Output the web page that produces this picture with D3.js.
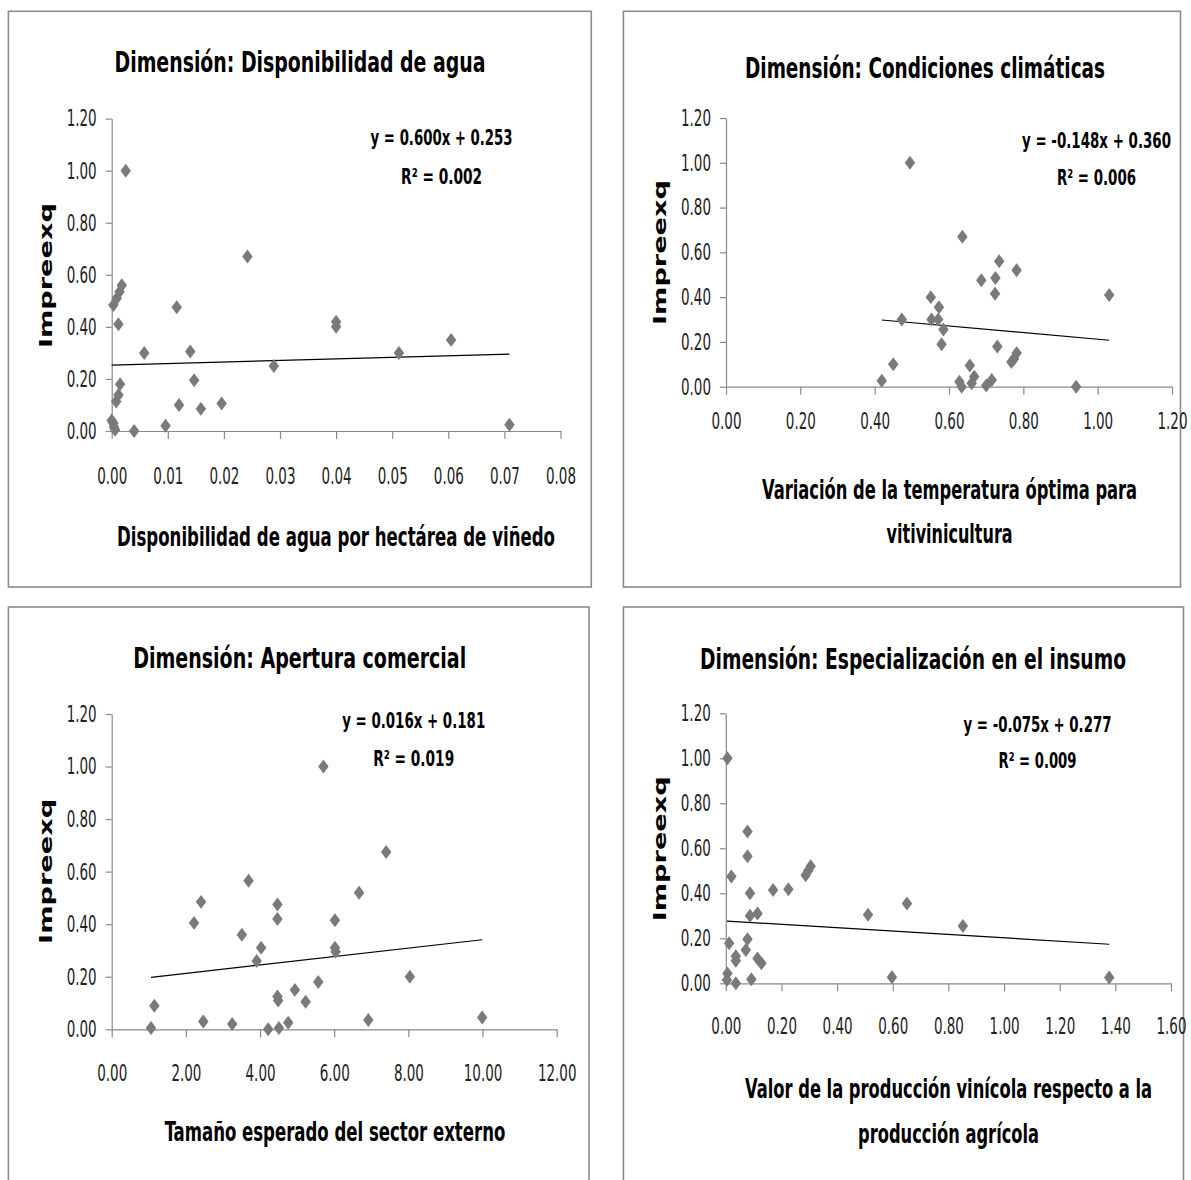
<!DOCTYPE html>
<html>
<head>
<meta charset="utf-8">
<script src="https://cdn.jsdelivr.net/npm/d3@7"></script>
<style>
  body { margin: 0; background: #fff; }
  svg { display: block; }
</style>
</head>
<body>
<div id="chart"></div>
<script>
// ---- data ----
var yTicks = [0, 0.2, 0.4, 0.6, 0.8, 1.0, 1.2];

// Disponibilidad de agua
var aguaTicks = [0, 0.01, 0.02, 0.03, 0.04, 0.05, 0.06, 0.07, 0.08];
var aguaFit = [0.600, 0.253];
var aguaR2 = 0.002;
var aguaPoints = [
  [0.0025, 1.00], [0.0242, 0.67], [0.0018, 0.56], [0.0014, 0.535], [0.0009, 0.51],
  [0.0003, 0.484], [0.0116, 0.475], [0.0012, 0.41], [0.0400, 0.42], [0.0400, 0.40],
  [0.0605, 0.35], [0.0512, 0.30], [0.0058, 0.30], [0.0140, 0.305], [0.0289, 0.25],
  [0.0147, 0.195], [0.0015, 0.18], [0.0012, 0.138], [0.0008, 0.113], [0.0120, 0.10],
  [0.0196, 0.106], [0.0159, 0.085], [0.0096, 0.02], [0.0040, 0.00], [0.0000, 0.04],
  [0.0003, 0.03], [0.0006, 0.005], [0.0004, 0.015], [0.0709, 0.024]
];

// Condiciones climaticas
var climaTicks = [0, 0.2, 0.4, 0.6, 0.8, 1.0, 1.2];
var climaFit = [-0.148, 0.360];
var climaR2 = 0.006;
var climaPoints = [
  [0.495, 1.00], [0.636, 0.67], [0.735, 0.56], [0.782, 0.52], [0.687, 0.475],
  [0.725, 0.485], [0.724, 0.415], [1.031, 0.41], [0.551, 0.40], [0.573, 0.355],
  [0.473, 0.30], [0.553, 0.30], [0.571, 0.30], [0.585, 0.255], [0.580, 0.19],
  [0.730, 0.18], [0.450, 0.10], [0.768, 0.11], [0.775, 0.125], [0.782, 0.15],
  [0.656, 0.095], [0.668, 0.045], [0.661, 0.015], [0.628, 0.022], [0.634, 0.00],
  [0.700, 0.005], [0.715, 0.03], [0.419, 0.027], [0.942, 0.00]
];

// Apertura comercial
var aperturaTicks = [0, 2, 4, 6, 8, 10, 12];
var aperturaFit = [0.016, 0.181];
var aperturaR2 = 0.019;
var aperturaPoints = [
  [5.71, 1.00], [7.40, 0.675], [3.69, 0.565], [6.67, 0.52], [2.41, 0.485],
  [4.47, 0.475], [4.47, 0.42], [2.22, 0.405], [6.02, 0.415], [3.51, 0.36],
  [4.03, 0.31], [6.02, 0.31], [6.04, 0.295], [3.91, 0.26], [8.04, 0.20],
  [5.57, 0.18], [4.94, 0.15], [4.47, 0.125], [4.49, 0.11], [5.23, 0.105],
  [1.15, 0.09], [1.06, 0.005], [2.47, 0.03], [3.25, 0.02], [4.22, 0.00],
  [4.51, 0.005], [4.76, 0.025], [6.92, 0.035], [9.99, 0.045]
];

// Especializacion en el insumo
var insumoTicks = [0, 0.2, 0.4, 0.6, 0.8, 1.0, 1.2, 1.4, 1.6];
var insumoFit = [-0.075, 0.277];
var insumoR2 = 0.009;
var insumoPoints = [
  [0.006, 1.00], [0.078, 0.675], [0.078, 0.565], [0.020, 0.475], [0.287, 0.48],
  [0.296, 0.50], [0.305, 0.52], [0.087, 0.40], [0.170, 0.415], [0.225, 0.418],
  [0.087, 0.30], [0.114, 0.31], [0.511, 0.305], [0.651, 0.355], [0.852, 0.255],
  [0.012, 0.178], [0.078, 0.196], [0.072, 0.148], [0.036, 0.12], [0.036, 0.10],
  [0.114, 0.11], [0.128, 0.089], [0.092, 0.018], [0.006, 0.044], [0.004, 0.015],
  [0.036, 0.00], [0.597, 0.027], [1.378, 0.026]
];

var yLabel = "Impreexq";

// ---- layout (pixel boxes measured on the reference) ----
var panels = [
  { title: "Dimensión: Disponibilidad de agua", titleX: 300, titleY: 71.5, titleW: 371,
    xTitle: ["Disponibilidad de agua por hectárea de viñedo"], xTitleX: 336, xTitleY: [545.7], xTitleW: [438],
    points: aguaPoints, ticks: aguaTicks, fit: aguaFit, r2: aguaR2,
    frame: [8.4, 11.3, 591.3, 587], plotX: [111.7, 560.5], plotY: [431, 118.6],
    eqX: 441.6, eqY: 145, eqW: 142, r2Y: 184.4, r2W: 81, xLabOff: 52.6, yLabX: 51.5, yLabY: 275.6 },
  { title: "Dimensión: Condiciones climáticas", titleX: 925, titleY: 78.3, titleW: 360,
    xTitle: ["Variación de la temperatura óptima para", "vitivinicultura"], xTitleX: 949.6, xTitleY: [498.7, 543], xTitleW: [375, 126],
    points: climaPoints, ticks: climaTicks, fit: climaFit, r2: climaR2,
    frame: [623.4, 11.3, 1180.5, 587], plotX: [726, 1172], plotY: [386.7, 118],
    eqX: 1096.5, eqY: 147.5, eqW: 149, r2Y: 185.2, r2W: 79, xLabOff: 42.3, yLabX: 665.5, yLabY: 252.5 },
  { title: "Dimensión: Apertura comercial", titleX: 299.7, titleY: 668.3, titleW: 333,
    xTitle: ["Tamaño esperado del sector externo"], xTitleX: 335, xTitleY: [1141.4], xTitleW: [340.6],
    points: aperturaPoints, ticks: aperturaTicks, fit: aperturaFit, r2: aperturaR2,
    frame: [8.4, 607, 589, 1190], plotX: [111.7, 556.7], plotY: [1029.3, 714],
    eqX: 413.7, eqY: 728.3, eqW: 143, r2Y: 765.7, r2W: 81, xLabOff: 51.9, yLabX: 51.5, yLabY: 871.4 },
  { title: "Dimensión: Especialización en el insumo", titleX: 913, titleY: 669, titleW: 426,
    xTitle: ["Valor de la producción vinícola respecto a la", "producción agrícola"], xTitleX: 948.6, xTitleY: [1098, 1142.5], xTitleW: [407, 181],
    points: insumoPoints, ticks: insumoTicks, fit: insumoFit, r2: insumoR2,
    frame: [623.4, 607, 1183.5, 1190], plotX: [725.8, 1171], plotY: [983.3, 713.3],
    eqX: 1037.5, eqY: 731.7, eqW: 148, r2Y: 768.3, r2W: 78, xLabOff: 50.7, yLabX: 665.5, yLabY: 848.8 }
];

var narrow = "'Liberation Sans Narrow','DejaVu Sans Condensed','Arial Narrow',sans-serif";
var tickSizePx = 23;

var svg = d3.select("#chart").append("svg")
    .attr("width", 1191)
    .attr("height", 1180);

// squeeze text to a measured width
function fit(sel, w) {
  sel.attr("textLength", w).attr("lengthAdjust", "spacingAndGlyphs");
}

// probe to find how much the tick font must be condensed
var probe = svg.append("text")
    .attr("font-family", narrow).attr("font-size", tickSizePx)
    .text("0.00");
var tickFactor = 30 / probe.node().getComputedTextLength();
probe.remove();

// diamond marker, a bit taller than wide
var diamond = {
  draw: function(ctx, size) {
    var h = Math.sqrt(size) * 0.58, w = h * 0.75;
    ctx.moveTo(0, -h); ctx.lineTo(w, 0); ctx.lineTo(0, h); ctx.lineTo(-w, 0); ctx.closePath();
  }
};
var marker = d3.symbol().type(diamond).size(145);

// plain hyphen as minus sign, like the original
var locale = d3.formatLocale({ decimal: ".", thousands: ",", grouping: [3], currency: ["", ""], minus: "-" });
var fmt = locale.format(".2f");
var f3 = locale.format(".3f");

panels.forEach(function(p) {
  var g = svg.append("g");

  // chart frame
  g.append("rect")
    .attr("x", p.frame[0]).attr("y", p.frame[1])
    .attr("width", p.frame[2] - p.frame[0]).attr("height", p.frame[3] - p.frame[1])
    .attr("fill", "#fff").attr("stroke", "#8a8a8a").attr("stroke-width", 1.6);

  var x = d3.scaleLinear().domain([0, d3.max(p.ticks)]).range(p.plotX);
  var y = d3.scaleLinear().domain([0, 1.2]).range(p.plotY);

  // x axis
  var xAxis = d3.axisBottom(x).tickValues(p.ticks).tickFormat(fmt)
      .tickSize(8).tickSizeOuter(0)
      .tickPadding(p.xLabOff - 8 - 0.71 * tickSizePx);
  var gx = g.append("g").attr("transform", "translate(0," + p.plotY[0] + ")").call(xAxis);

  // y axis
  var yAxis = d3.axisLeft(y).tickValues(yTicks).tickFormat(fmt)
      .tickSize(6).tickSizeOuter(0).tickPadding(9);
  var gy = g.append("g").attr("transform", "translate(" + p.plotX[0] + ",0)").call(yAxis);

  [gx, gy].forEach(function(ax) {
    ax.select(".domain").attr("stroke", "#8a8a8a").attr("stroke-width", 1.2);
    ax.selectAll(".tick line").attr("stroke", "#8a8a8a").attr("stroke-width", 1.2);
    ax.selectAll(".tick text")
      .attr("font-family", narrow).attr("font-size", tickSizePx).attr("fill", "#222")
      .each(function() {
        d3.select(this).attr("textLength", this.getComputedTextLength() * tickFactor)
          .attr("lengthAdjust", "spacingAndGlyphs");
      });
  });

  // trend line over the data range
  var xs = d3.extent(p.points, function(d) { return d[0]; });
  g.append("line")
    .attr("x1", x(xs[0])).attr("y1", y(p.fit[0] * xs[0] + p.fit[1]))
    .attr("x2", x(xs[1])).attr("y2", y(p.fit[0] * xs[1] + p.fit[1]))
    .attr("stroke", "#000").attr("stroke-width", 1.2);

  // points
  g.selectAll(".pt")
    .data(p.points)
    .enter()
    .append("path")
      .attr("class", "pt")
      .attr("d", marker)
      .attr("fill", "#7a7a7a")
      .attr("transform", function(d) { return "translate(" + x(d[0]) + "," + y(d[1]) + ")"; });

  // title
  g.append("text")
    .attr("x", p.titleX).attr("y", p.titleY)
    .attr("text-anchor", "middle")
    .attr("font-family", narrow).attr("font-weight", "bold").attr("font-size", 29)
    .attr("fill", "#000")
    .text(p.title)
    .call(fit, p.titleW);

  // equation and R2
  var eq = "y = " + f3(p.fit[0]) + "x + " + f3(p.fit[1]);
  g.append("text")
    .attr("x", p.eqX).attr("y", p.eqY)
    .attr("text-anchor", "middle")
    .attr("font-family", narrow).attr("font-weight", "bold").attr("font-size", 21)
    .attr("fill", "#000")
    .text(eq)
    .call(fit, p.eqW);
  g.append("text")
    .attr("x", p.eqX).attr("y", p.r2Y)
    .attr("text-anchor", "middle")
    .attr("font-family", narrow).attr("font-weight", "bold").attr("font-size", 21)
    .attr("fill", "#000")
    .text("R² = " + f3(p.r2))
    .call(fit, p.r2W);

  // x axis title
  p.xTitle.forEach(function(line, i) {
    g.append("text")
      .attr("x", p.xTitleX).attr("y", p.xTitleY[i])
      .attr("text-anchor", "middle")
      .attr("font-family", narrow).attr("font-weight", "bold").attr("font-size", 26)
      .attr("fill", "#000")
      .text(line)
      .call(fit, p.xTitleW[i]);
  });

  // y axis title
  g.append("text")
    .attr("transform", "translate(" + p.yLabX + "," + p.yLabY + ") rotate(-90)")
    .attr("text-anchor", "middle")
    .attr("font-family", "'DejaVu Sans',sans-serif").attr("font-weight", "bold").attr("font-size", 18)
    .attr("fill", "#000")
    .text(yLabel)
    .call(fit, 145);
});
</script>
</body>
</html>
